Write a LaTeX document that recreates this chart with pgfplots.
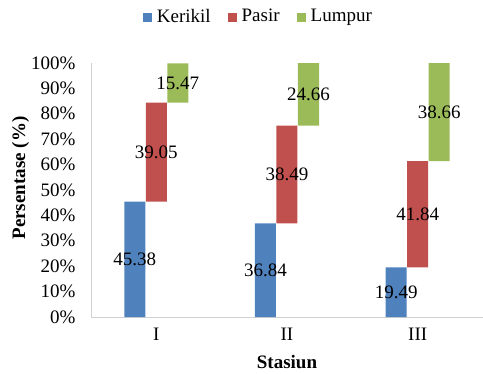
\documentclass[border=0pt]{standalone}
\usepackage{pgfplots}
\pgfplotsset{compat=1.18}
\usepackage{fontspec}
\setmainfont{Liberation Serif}
\definecolor{cK}{HTML}{4F81BD}
\definecolor{cP}{HTML}{C0504D}
\definecolor{cL}{HTML}{9BBB59}
\begin{document}
\fontsize{19bp}{22bp}\selectfont
\begin{tikzpicture}
\useasboundingbox (-91bp,-57bp) rectangle (392bp,317bp);
\begin{axis}[
  at={(0,0)}, anchor=south west,
  scale only axis, width=392bp, height=254bp,
  ybar stacked, bar width=21bp,
  xmin=-0.5, xmax=2.5, ymin=0, ymax=100,
  xtick={0,1,2}, xticklabels={I,II,III},
  ytick={0,10,...,100},
  yticklabel={\pgfmathprintnumber{\tick}\%},
  /pgf/number format/assume math mode=true,
  axis x line*=bottom, axis y line*=left,
  axis line style={draw=black!18},
  major tick length=0pt,
  yticklabel style={xshift=-9bp},
  xticklabel style={yshift=-5bp},
  xlabel={\textbf{Stasiun}}, ylabel={\textbf{Persentase (\%)}},
  every axis y label/.style={at={(axis description cs:-0.18,0.547)}, rotate=90, anchor=center},
  every axis x label/.style={at={(axis description cs:0.5,-0.177)}, anchor=center},
  point meta=rawy,
  nodes near coords={\pgfmathprintnumber[fixed,precision=2]{\pgfplotspointmeta}},
  every node near coord/.append style={text=black},
  legend entries={Kerikil,Pasir,Lumpur},
  legend columns=3,
  legend style={at={(axis description cs:0.427,1.181)}, anchor=center, draw=none, fill=none,
    /tikz/every odd column/.append style={column sep=2.5bp},
    /tikz/every even column/.append style={column sep=15bp}},
  legend image code/.code={\draw[#1,draw=none] (0bp,-4.5bp) rectangle (9.5bp,4.5bp);},
]
\addplot[fill=cK, draw=none, bar shift=-21.5bp] coordinates {(0,45.38) (1,36.84) (2,19.49)};
\addplot[fill=cP, draw=none, bar shift=0bp] coordinates {(0,39.05) (1,38.49) (2,41.84)};
\addplot[fill=cL, draw=none, bar shift=21.5bp] coordinates {(0,15.47) (1,24.66) (2,38.66)};
\end{axis}
\end{tikzpicture}
\end{document}
